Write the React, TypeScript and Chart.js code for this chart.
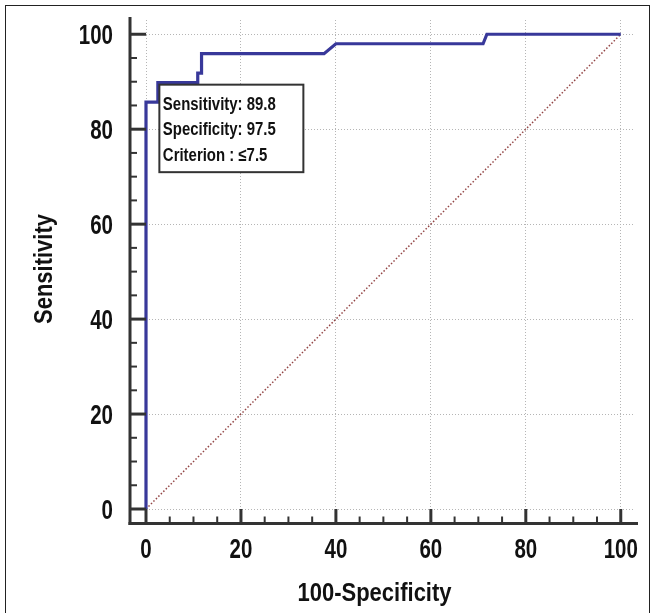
import React, { useEffect, useRef } from "react";
import { Chart, registerables } from "chart.js";

Chart.register(...registerables);

// ROC curve (100-Specificity vs Sensitivity)
const rocFpr = [0, 0, 2.5, 2.5, 10.9, 10.9, 11.7, 11.7, 37.5, 40, 71, 71.8, 100];
const rocTpr = [0, 85.7, 85.7, 89.8, 89.8, 91.8, 91.8, 95.9, 95.9, 98, 98, 100, 100];
// reference diagonal
const diagX = [0, 100];
const diagY = [0, 100];

const tickValues = [0, 20, 40, 60, 80, 100];
const tickLabels = ["0", "20", "40", "60", "80", "100"];
const minorTickValues = [5, 10, 15, 25, 30, 35, 45, 50, 55, 65, 70, 75, 85, 90, 95];

const criterionFpr = 2.5;
const criterionTpr = 89.8;
const annotationLines = ["Sensitivity: 89.8", "Specificity: 97.5", "Criterion : \u22647.5"];

const xTitle = "100-Specificity";
const yTitle = "Sensitivity";

const FONT = "'Liberation Sans', Arial, sans-serif";

function drawText(
  ctx: CanvasRenderingContext2D,
  text: string,
  x: number,
  y: number,
  size: number,
  scaleX: number,
  align: CanvasTextAlign,
  rotate = false
) {
  ctx.save();
  ctx.translate(x, y);
  if (rotate) ctx.rotate(-Math.PI / 2);
  ctx.scale(scaleX, 1);
  ctx.font = `bold ${size}px ${FONT}`;
  ctx.textAlign = align;
  ctx.textBaseline = "alphabetic";
  ctx.fillText(text, 0, 0);
  ctx.restore();
}

const decor = {
  id: "rocDecor",
  afterDraw(chart: any) {
    const { ctx, chartArea, scales } = chart;
    const xs = scales.x;
    const ys = scales.y;
    const axisX = chartArea.left - 16;
    const axisY = chartArea.bottom + 14.5;
    ctx.save();
    ctx.strokeStyle = "#333333";
    ctx.lineCap = "butt";
    // axis lines
    ctx.lineWidth = 3;
    ctx.beginPath();
    ctx.moveTo(axisX, chartArea.top - 3);
    ctx.lineTo(axisX, axisY + 1.5);
    ctx.stroke();
    ctx.beginPath();
    ctx.moveTo(axisX - 1.5, axisY);
    ctx.lineTo(chartArea.right + 3, axisY);
    ctx.stroke();
    // major ticks
    ctx.lineWidth = 3;
    tickValues.forEach((v) => {
      const py = ys.getPixelForValue(v);
      ctx.beginPath();
      ctx.moveTo(axisX, py);
      ctx.lineTo(chartArea.left, py);
      ctx.stroke();
      const px = xs.getPixelForValue(v);
      ctx.beginPath();
      ctx.moveTo(px, axisY);
      ctx.lineTo(px, chartArea.bottom);
      ctx.stroke();
    });
    // minor ticks
    ctx.lineWidth = 2;
    minorTickValues.forEach((v) => {
      const py = ys.getPixelForValue(v);
      ctx.beginPath();
      ctx.moveTo(axisX, py);
      ctx.lineTo(axisX + 7, py);
      ctx.stroke();
      const px = xs.getPixelForValue(v);
      ctx.beginPath();
      ctx.moveTo(px, axisY);
      ctx.lineTo(px, axisY - 7);
      ctx.stroke();
    });
    // tick labels
    ctx.fillStyle = "#111111";
    tickValues.forEach((v, i) => {
      const py = ys.getPixelForValue(v);
      drawText(ctx, tickLabels[i], chartArea.left - 33, py + 9.7, 27, 0.76, "right");
      const px = xs.getPixelForValue(v);
      drawText(ctx, tickLabels[i], px, chartArea.bottom + 49, 27, 0.76, "center");
    });
    // titles
    drawText(ctx, xTitle, 374.5, 601, 25, 0.88, "center");
    drawText(ctx, yTitle, 52, 269, 25, 0.88, "center", true);
    // annotation box anchored at criterion point
    const bx = xs.getPixelForValue(criterionFpr) + 1.5;
    const by = ys.getPixelForValue(criterionTpr) + 2;
    const bw = 144;
    const bh = 87.5;
    ctx.fillStyle = "#ffffff";
    ctx.fillRect(bx, by, bw, bh);
    ctx.lineWidth = 2;
    ctx.strokeStyle = "#333333";
    ctx.strokeRect(bx, by, bw, bh);
    ctx.fillStyle = "#111111";
    annotationLines.forEach((t, i) => {
      drawText(ctx, t, bx + 3.5, by + 19 + i * 25.4 + 6.4, 18, 0.83, "left");
    });
    ctx.restore();
  },
};

export default function App() {
  const ref = useRef<HTMLCanvasElement | null>(null);
  useEffect(() => {
    if (!ref.current) return;
    const chart = new Chart(ref.current, {
      type: "scatter",
      data: {
        datasets: [
          {
            label: "ROC",
            data: rocFpr.map((x, i) => ({ x, y: rocTpr[i] })),
            showLine: true,
            borderColor: "#38389a",
            borderWidth: 3.2,
            pointRadius: 0,
            tension: 0,
            clip: false as any,
            order: 0,
          },
          {
            label: "Diagonal",
            data: diagX.map((x, i) => ({ x, y: diagY[i] })),
            showLine: true,
            borderColor: "#934545",
            borderWidth: 1.5,
            borderDash: [1.5, 2],
            pointRadius: 0,
            clip: false as any,
            order: 1,
          },
        ],
      },
      options: {
        animation: false,
        responsive: true,
        maintainAspectRatio: false,
        layout: { padding: { top: 20, right: 21, bottom: 0, left: 0 } },
        plugins: { legend: { display: false }, tooltip: { enabled: false } },
        scales: {
          x: {
            type: "linear",
            min: 0,
            max: 103,
            afterBuildTicks: (s: any) => {
              s.ticks = tickValues.map((v) => ({ value: v }));
            },
            afterFit: (s: any) => {
              s.height = 104;
              s.paddingLeft = 0;
              s.paddingRight = 0;
            },
            ticks: { display: false },
            grid: { color: "#b5b5b5", lineWidth: 1, drawTicks: false },
            border: { display: false, dash: [1, 2] },
          },
          y: {
            type: "linear",
            min: 0,
            max: 103,
            afterBuildTicks: (s: any) => {
              s.ticks = tickValues.map((v) => ({ value: v }));
            },
            afterFit: (s: any) => {
              s.width = 146;
              s.paddingTop = 0;
              s.paddingBottom = 0;
            },
            ticks: { display: false },
            grid: { color: "#b5b5b5", lineWidth: 1, drawTicks: false },
            border: { display: false, dash: [1, 2] },
          },
        },
      },
      plugins: [decor],
    });
    return () => chart.destroy();
  }, []);

  return (
    <div
      style={{
        position: "absolute",
        left: 0,
        top: 0,
        width: 656,
        height: 613,
        overflow: "hidden",
        background: "#ffffff",
      }}
    >
      <div
        style={{
          position: "absolute",
          left: 5,
          top: 5,
          width: 645,
          height: 700,
          border: "1.5px solid #222222",
          boxSizing: "border-box",
        }}
      />
      <div style={{ position: "absolute", left: 0, top: 0, width: 656, height: 613 }}>
        <canvas ref={ref} />
      </div>
    </div>
  );
}
